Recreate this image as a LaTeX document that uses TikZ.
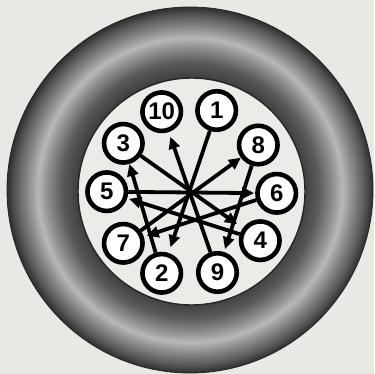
\documentclass[tikz,border=0pt]{standalone}
\usepackage{fontspec}
\setmainfont{Liberation Sans}
\usetikzlibrary{arrows.meta}
\definecolor{bg}{HTML}{E8E8E4}
\definecolor{disc}{HTML}{EBEBE8}
\definecolor{rA}{HTML}{404040}
\definecolor{rB}{HTML}{5A5A5A}
\definecolor{rC}{HTML}{909090}
\definecolor{rD}{HTML}{B8B8B8}
\definecolor{rE}{HTML}{888888}
\definecolor{rF}{HTML}{545454}
\definecolor{rG}{HTML}{2E2E2E}
\pgfdeclareradialshading{ringshade}{\pgfpoint{0bp}{0bp}}{%
  color(0bp)=(rA); color(15.5bp)=(rA); color(17.5bp)=(rB); color(19.5bp)=(rC);
  color(20.8bp)=(rD); color(22.3bp)=(rE); color(24bp)=(rF); color(25bp)=(rG); color(50bp)=(rG)}
\tikzset{
  bolt/.style={circle, draw=black, fill=white, line width=4.6pt, minimum size=38.5pt,
    inner sep=0pt, font=\fontsize{24pt}{24pt}\selectfont\bfseries},
  arr/.style={line width=3.8pt, -{Triangle[length=12pt,width=11pt]}}
}
\begin{document}
\begin{tikzpicture}[x=1pt,y=-1pt]
\useasboundingbox (0,0) rectangle (374,374);
\fill[bg] (0,0) rectangle (374,374);
\shade[shading=ringshade, even odd rule] (190,190) circle (183) (191.5,191.5) circle (113.5);
\draw[line width=0.8pt, black!85] (190,190) circle (183);
\fill[disc] (191.5,191.5) circle (113.5);
\draw[line width=1.4pt, black!85] (191.5,191.5) circle (113.5);
\node[bolt] (n10) at (161.7,111.7) {10};
\node[bolt] (n1) at (216.7,110.5) {1};
\node[bolt] (n3) at (123.3,143.3) {3};
\node[bolt] (n8) at (258.3,145) {8};
\node[bolt] (n5) at (106.7,191.7) {5};
\node[bolt] (n6) at (276.7,193.3) {6};
\node[bolt] (n7) at (123.3,243.3) {7};
\node[bolt] (n4) at (260.3,240.7) {4};
\node[bolt] (n2) at (161.7,273.3) {2};
\node[bolt] (n9) at (217.5,272.5) {9};
\draw[arr, shorten >=6pt] (n1) -- (n2);
\draw[arr, shorten >=0pt] (n2) -- (n3);
\draw[arr, shorten >=7pt] (n3) -- (n4);
\draw[arr, shorten >=2pt] (n4) -- (n5);
\draw[arr, shorten >=1pt] (n5) -- (n6);
\draw[arr, shorten >=3pt] (n6) -- (n7);
\draw[arr, shorten >=0pt] (n7) -- (n8);
\draw[arr, shorten >=3pt] (n8) -- (n9);
\draw[arr, shorten >=5pt] (n9) -- (n10);
\end{tikzpicture}
\end{document}
